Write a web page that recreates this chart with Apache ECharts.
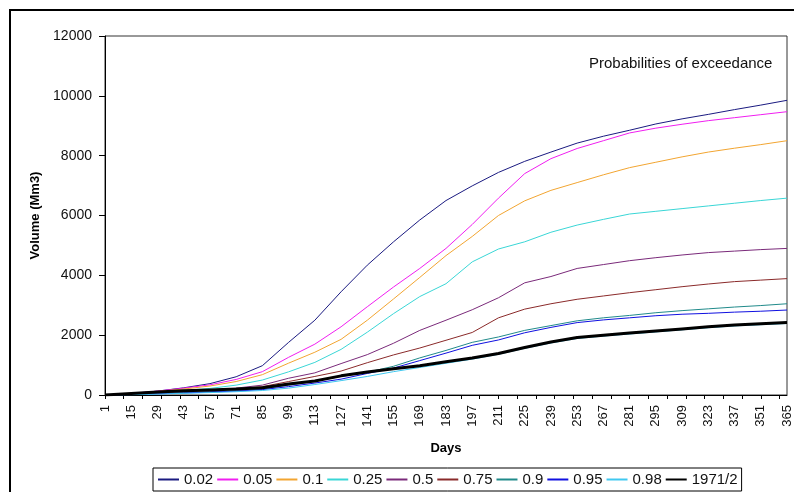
<!DOCTYPE html>
<html>
<head>
<meta charset="utf-8">
<script src="https://cdn.jsdelivr.net/npm/echarts@6/dist/echarts.min.js"></script>
<style>
  html, body { margin: 0; padding: 0; background: #fff; }
  #chart { width: 794px; height: 492px; }
</style>
</head>
<body>
<div id="chart"></div>
<script>
// sampled days (every 14th day, same as the axis labels)
var days = [1, 15, 29, 43, 57, 71, 85, 99, 113, 127, 141, 155, 169, 183, 197, 211, 225, 239, 253, 267, 281, 295, 309, 323, 337, 351, 365];

// volumes (Mm3)
var p002 = [0, 50, 130, 240, 380, 610, 980, 1760, 2500, 3450, 4340, 5120, 5850, 6500, 6990, 7440, 7810, 8120, 8420, 8650, 8850, 9060, 9230, 9380, 9540, 9690, 9850];
var p005 = [0, 50, 130, 230, 340, 520, 780, 1260, 1700, 2280, 2950, 3610, 4230, 4900, 5700, 6580, 7400, 7900, 8240, 8500, 8760, 8920, 9050, 9170, 9270, 9370, 9470];
var p01 = [0, 45, 120, 200, 300, 450, 680, 1065, 1430, 1860, 2500, 3210, 3930, 4660, 5300, 6000, 6490, 6840, 7100, 7360, 7600, 7780, 7960, 8120, 8250, 8370, 8500];
var p025 = [0, 35, 90, 150, 220, 330, 500, 775, 1090, 1525, 2100, 2720, 3290, 3720, 4450, 4880, 5120, 5440, 5680, 5870, 6050, 6140, 6230, 6320, 6410, 6500, 6580];
var p05 = [0, 30, 80, 120, 170, 230, 330, 560, 740, 1050, 1350, 1730, 2160, 2500, 2850, 3250, 3750, 3960, 4230, 4360, 4490, 4590, 4680, 4760, 4810, 4860, 4900];
var p075 = [0, 30, 70, 110, 150, 200, 280, 450, 620, 800, 1080, 1340, 1570, 1830, 2090, 2580, 2870, 3050, 3200, 3310, 3420, 3520, 3620, 3710, 3790, 3840, 3890];
var p09 = [0, 20, 50, 80, 110, 150, 200, 330, 460, 620, 760, 960, 1240, 1490, 1760, 1940, 2160, 2320, 2480, 2580, 2660, 2750, 2820, 2880, 2940, 2990, 3050];
var p095 = [0, 15, 40, 65, 100, 130, 180, 280, 400, 530, 720, 900, 1150, 1400, 1660, 1840, 2080, 2260, 2420, 2510, 2580, 2650, 2700, 2730, 2770, 2800, 2840];
var p098 = [0, 10, 30, 55, 80, 110, 150, 230, 350, 480, 620, 780, 920, 1060, 1200, 1360, 1560, 1740, 1890, 1970, 2040, 2110, 2180, 2250, 2310, 2350, 2390];
var y1971 = [0, 50, 100, 140, 170, 200, 240, 370, 470, 640, 770, 880, 980, 1110, 1240, 1390, 1590, 1770, 1920, 2000, 2070, 2140, 2210, 2280, 2340, 2380, 2420];

var yTicks = { min: 0, max: 12000, interval: 2000 };

// category axis: every day of the year
var categories = [];
for (var d = 1; d <= 365; d++) categories.push(String(d));

var font = "'Liberation Sans', Arial, sans-serif";

function mk(name, vals, color, width) {
  return {
    name: name,
    type: 'line',
    symbol: 'none',
    showSymbol: false,
    animation: false,
    lineStyle: { color: color, width: width || 1 },
    itemStyle: { color: color },
    data: days.map(function (day, i) { return [day - 1, vals[i]]; })
  };
}

var series = [
  mk('0.02', p002, '#1a1a80'),
  mk('0.05', p005, '#f01ef0'),
  mk('0.1', p01, '#f2a531'),
  mk('0.25', p025, '#3ad6d6'),
  mk('0.5', p05, '#7a2a7a'),
  mk('0.75', p075, '#8a2a2a'),
  mk('0.9', p09, '#208a8a'),
  mk('0.95', p095, '#1010e0'),
  mk('0.98', p098, '#40c8f0'),
  mk('1971/2', y1971, '#000000', 3)
];

var chart = echarts.init(document.getElementById('chart'));
chart.setOption({
  animation: false,
  backgroundColor: '#fff',
  textStyle: { fontFamily: font },
  grid: {
    left: 105, top: 36, right: 7, bottom: 97,
    show: true, borderColor: '#333', borderWidth: 1
  },
  xAxis: {
    type: 'category',
    data: categories,
    boundaryGap: false,
    name: 'Days',
    nameLocation: 'middle',
    nameGap: 47,
    nameTextStyle: { fontFamily: font, fontWeight: 'bold', fontSize: 13, color: '#000' },
    axisLine: { lineStyle: { color: '#000', width: 1 } },
    axisTick: { interval: 9, length: 4, lineStyle: { color: '#000' } },
    axisLabel: { interval: 13, rotate: 90, fontSize: 13, color: '#111', margin: 10, fontFamily: font },
    splitLine: { show: false }
  },
  yAxis: {
    type: 'value',
    min: yTicks.min, max: yTicks.max, interval: yTicks.interval,
    name: 'Volume (Mm3)',
    nameLocation: 'middle',
    nameGap: 62,
    nameRotate: 90,
    nameTextStyle: { fontFamily: font, fontWeight: 'bold', fontSize: 13, color: '#000' },
    axisLine: { show: true, lineStyle: { color: '#000', width: 1 } },
    axisTick: { show: true, length: 6, lineStyle: { color: '#000' } },
    axisLabel: {
      fontSize: 14, color: '#111', margin: 13, fontFamily: font,
      formatter: function (v) { return String(v); }
    },
    splitLine: { show: false }
  },
  legend: {
    type: 'plain',
    orient: 'horizontal',
    left: 153, top: 468, width: 620,
    itemWidth: 21, itemHeight: 10, itemGap: 3,
    padding: [4, 4],
    borderColor: '#000', borderWidth: 1,
    itemStyle: { opacity: 0 },
    textStyle: { fontFamily: font, fontSize: 15, color: '#111' },
    data: ['0.02', '0.05', '0.1', '0.25', '0.5', '0.75', '0.9', '0.95', '0.98', '1971/2']
  },
  graphic: [
    { type: 'rect', shape: { x: 10, y: 10, width: 800, height: 500 },
      style: { fill: 'none', stroke: '#000', lineWidth: 2 }, silent: true, z: 100 },
    { type: 'text', left: 589, top: 56,
      style: { text: 'Probabilities of exceedance', fontFamily: font, fontSize: 15, fill: '#111' } }
  ],
  series: series
});
</script>
</body>
</html>
